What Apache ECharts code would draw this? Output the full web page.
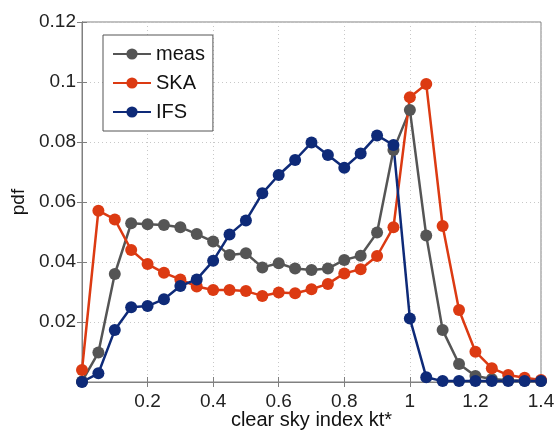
<!DOCTYPE html>
<html>
<head>
<meta charset="utf-8">
<script src="https://cdn.jsdelivr.net/npm/echarts@6/dist/echarts.min.js"></script>
<style>html,body{margin:0;padding:0;background:#fff}#c{width:556px;height:431px}</style>
</head>
<body>
<div id="c"></div>
<script>
var xValues = [0,0.05,0.1,0.15,0.2,0.25,0.3,0.35,0.4,0.45,0.5,0.55,0.6,0.65,0.7,0.75,0.8,0.85,0.9,0.95,1.0,1.05,1.1,1.15,1.2,1.25,1.3,1.35,1.4];
var meas = [0.0002,0.0098,0.036,0.0529,0.0526,0.0523,0.0516,0.0493,0.0468,0.0423,0.0429,0.0382,0.0396,0.0378,0.0373,0.0378,0.0407,0.0421,0.0498,0.0773,0.0907,0.0488,0.0173,0.006,0.002,0.001,0.0006,0.0004,0.0003];
var ska = [0.004,0.0571,0.0542,0.044,0.0393,0.0364,0.0342,0.0318,0.0307,0.0307,0.0303,0.0287,0.0298,0.0296,0.0309,0.0327,0.0362,0.0376,0.042,0.0516,0.0949,0.0993,0.052,0.024,0.0101,0.0046,0.0023,0.0014,0.0007];
var ifs = [0.0,0.0029,0.0173,0.0249,0.0253,0.0276,0.032,0.0342,0.0404,0.0492,0.0538,0.0629,0.069,0.074,0.0798,0.0757,0.0714,0.0762,0.0822,0.079,0.0212,0.0016,0.0003,0.0003,0.0003,0.0003,0.0003,0.0003,0.0003];
var seriesNames = ['meas','SKA','IFS'];
var colors = ['#555555','#dc3a12','#0e2a78'];

function pairs(ys){ return xValues.map(function(x,i){ return [x, ys[i]]; }); }

var font = 'Liberation Sans, Arial, sans-serif';
var chart = echarts.init(document.getElementById('c'), null, {renderer:'canvas'});
function mkSeries(name, ys, color){
  return {
    name:name, type:'line', data:pairs(ys), symbol:'circle', symbolSize:12,
    lineStyle:{color:color,width:2.5}, itemStyle:{color:color},
    z: 2
  };
}
var option = {
  animation:false,
  grid:{left:82, right:15, top:22, bottom:49, show:true, borderColor:'#808080', borderWidth:1,
        containLabel:false, outerBoundsMode:'none'},
  legend:{
    orient:'vertical', left:103, top:35, itemWidth:38, itemHeight:14, itemGap:9,
    padding:[9,8,9,9], borderColor:'#555', borderWidth:1, backgroundColor:'#fff',
    textStyle:{fontFamily:font, fontSize:20, color:'#111'},
    data:seriesNames
  },
  xAxis:[{
    type:'value', min:0, max:1.4, interval:0.2,
    name:'clear sky index kt*', nameLocation:'middle', nameGap:28, nameMoveOverlap:false,
    nameTextStyle:{fontFamily:font, fontSize:20, color:'#111', verticalAlign:'top'},
    axisLine:{show:true, lineStyle:{color:'#808080'}},
    axisTick:{show:true, inside:true, length:5, lineStyle:{color:'#808080'}},
    axisLabel:{fontFamily:font, fontSize:19, color:'#222', margin:10,
      formatter:function(v){ return v===0 ? '' : String(+v.toFixed(2)); }},
    splitLine:{show:true, lineStyle:{color:'#c8c8c8', type:[1,3]}}
  },{
    type:'value', min:0, max:1.4, interval:0.2, position:'top',
    axisLine:{show:true, lineStyle:{color:'#808080'}},
    axisTick:{show:true, inside:true, length:5, lineStyle:{color:'#808080'}},
    axisLabel:{show:false}, splitLine:{show:false}
  }],
  yAxis:[{
    type:'value', min:0, max:0.12, interval:0.02,
    name:'pdf', nameLocation:'middle', nameGap:44, nameRotate:90,
    nameTextStyle:{fontFamily:font, fontSize:19, color:'#111'},
    axisLine:{show:true, lineStyle:{color:'#808080'}},
    axisTick:{show:true, inside:true, length:5, lineStyle:{color:'#808080'}},
    axisLabel:{fontFamily:font, fontSize:19, color:'#222', margin:6,
      formatter:function(v){ return v===0 ? '' : String(+v.toFixed(2)); }},
    splitLine:{show:true, lineStyle:{color:'#c8c8c8', type:[1,3]}}
  },{
    type:'value', min:0, max:0.12, interval:0.02, position:'right',
    axisLine:{show:true, lineStyle:{color:'#808080'}},
    axisTick:{show:true, inside:true, length:5, lineStyle:{color:'#808080'}},
    axisLabel:{show:false}, splitLine:{show:false}
  }],
  series:[
    mkSeries(seriesNames[0], meas, colors[0]),
    mkSeries(seriesNames[1], ska, colors[1]),
    mkSeries(seriesNames[2], ifs, colors[2])
  ]
};
chart.setOption(option);
</script>
</body>
</html>
